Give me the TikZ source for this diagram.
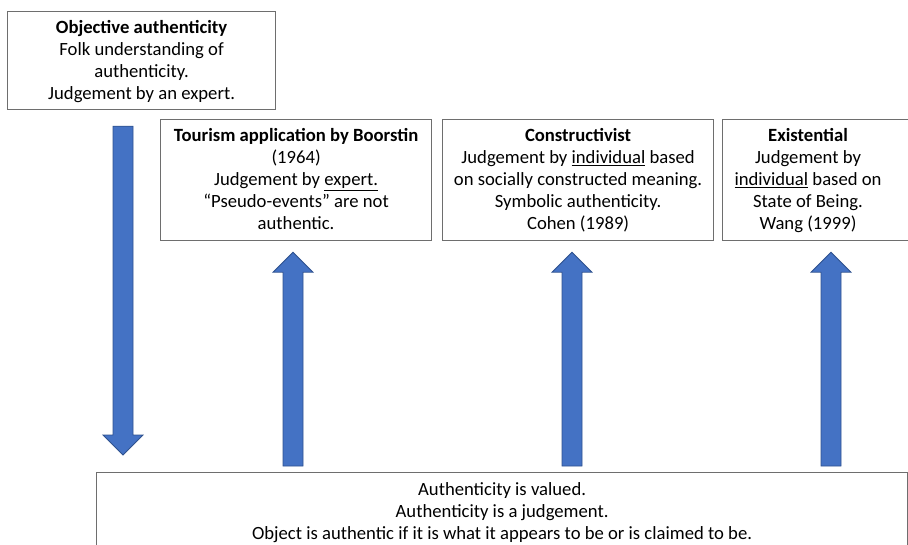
\documentclass[tikz,border=0pt]{standalone}
\usepackage{fontspec}
\setmainfont{Carlito}
\usetikzlibrary{positioning, calc}

\definecolor{arrowblue}{HTML}{4472C4}
\definecolor{arrowedge}{HTML}{2F528F}
\definecolor{boxgray}{HTML}{6E6E6E}

% block arrow: shaft end #1, tip #2, head base #3 units back from the tip
\newcommand{\blockarrow}[3]{%
  \draw[arrow shape] ($(#1)+(-10,0)$) -- ($(#2)+(-10,#3)$) -- ($(#2)+(-20,#3)$)
    -- (#2) -- ($(#2)+(20,#3)$) -- ($(#2)+(10,#3)$) -- ($(#1)+(10,0)$) -- cycle;}

\begin{document}
\begin{tikzpicture}[x=0.75pt, y=-0.75pt,
                box/.style={draw=boxgray, line width=0.9pt, inner sep=0pt, anchor=north west},
                box text/.style={anchor=north, align=center, inner sep=0pt,
                    font=\fontsize{14}{16.5}\selectfont},
                arrow shape/.style={fill=arrowblue, draw=arrowedge, line width=0.6pt, line join=miter}]

            \useasboundingbox (0,0) rectangle (908,544);

            \node[box, minimum width=201pt, minimum height=73.5pt] (objective) at (7,11) {};
            \node[box, minimum width=203.25pt, minimum height=90.75pt] (boorstin) at (160,119) {};
            \node[box, minimum width=203.25pt, minimum height=90.75pt] (construct) at (442,119) {};
            \node[box, minimum width=142.5pt, minimum height=90.75pt] (existential) at (722,119) {};
            \node[box, minimum width=608.25pt, minimum height=66pt] (base) at (96,472) {};

            \node[box text] (objective text) at ($(objective.north)+(0,9)$)
                {\textbf{Objective authenticity}\\Folk understanding of\\authenticity.\\Judgement by an expert.};
            \node[box text] (boorstin text) at ($(boorstin.north)+(0,9)$)
                {\textbf{Tourism application by Boorstin}\\(1964)\\Judgement by \underline{expert.}\\“Pseudo-events” are not\\authentic.};
            \node[box text] (construct text) at ($(construct.north)+(0,9)$)
                {\textbf{Constructivist}\\Judgement by \underline{individual} based\\on socially constructed meaning.\\Symbolic authenticity.\\Cohen (1989)};
            \node[box text] (existential text) at ($(existential.north west)+(86,9)$)
                {\textbf{Existential}\\Judgement by\\\underline{individual} based on\\State of Being.\\Wang (1999)};
            \node[box text] (base text) at ($(base.north)+(0,10)$)
                {Authenticity is valued.\\Authenticity is a judgement.\\Object is authentic if it is what it appears to be or is claimed to be.};

            \coordinate (colobjective) at (123,0);
            \coordinate (objective bot) at ($(colobjective |- objective.south)+(0,16)$);
            \coordinate (objective tip) at ($(colobjective |- base.north)+(0,-17)$);
            \blockarrow{objective bot}{objective tip}{-20}

            \foreach \name/\col in {boorstin/293, construct/572, existential/831} {
                \coordinate (col\name) at (\col,0);
                \coordinate (\name bot) at ($(col\name |- base.north)+(0,-6)$);
                \coordinate (\name tip) at ($(col\name |- \name.south)+(0,11)$);
                \blockarrow{\name bot}{\name tip}{20}
            }
        \end{tikzpicture}
\end{document}
